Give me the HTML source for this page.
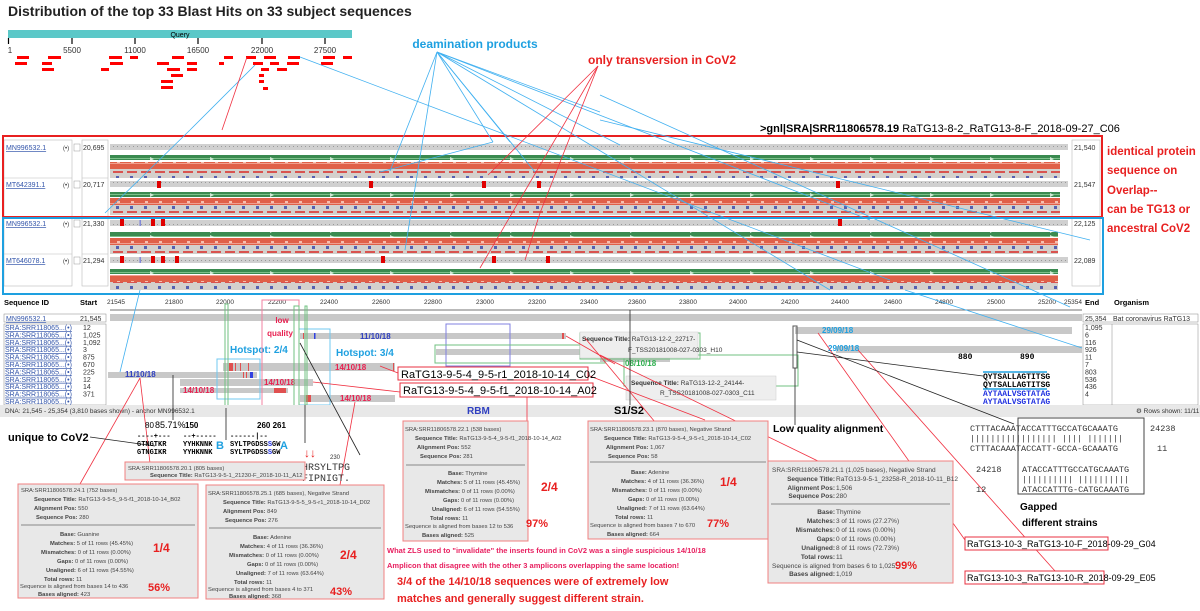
<!DOCTYPE html>
<html><head><meta charset="utf-8"><style>
html,body{margin:0;padding:0;background:#fff;}
svg{display:block;font-family:"Liberation Sans",sans-serif;}
.t7{font-size:7px;fill:#333}
.t6{font-size:6px;fill:#333}
.lnk{font-size:7px;fill:#3355aa;text-decoration:underline}
.mono{font-family:"Liberation Mono",monospace}
</style></head><body>
<svg width="1200" height="611" viewBox="0 0 1200 611" xmlns="http://www.w3.org/2000/svg">
<defs>
<pattern id="dots" width="4" height="6" patternUnits="userSpaceOnUse"><rect width="4" height="6" fill="#d0d0d0"/><rect x="1" y="2" width="1" height="1" fill="#999"/></pattern>
<pattern id="gstripe" width="60" height="6" patternUnits="userSpaceOnUse"><rect width="60" height="6" fill="#3a8a50"/><rect y="2" width="60" height="1" fill="#7cc08a"/><path d="M30 1 L34 3 L30 5Z" fill="#cfe8d5"/></pattern>
<pattern id="rstripe" width="14" height="8" patternUnits="userSpaceOnUse"><rect width="14" height="8" fill="#e06048"/><rect y="3" width="14" height="1" fill="#f0a090"/><rect x="5" y="1" width="3" height="2" fill="#f6c0b0"/></pattern>
<pattern id="cod" width="14" height="10" patternUnits="userSpaceOnUse"><rect width="14" height="10" fill="#d4d0cc"/><rect x="1" y="1" width="10" height="2" fill="#d9534f"/><rect x="4" y="6" width="3" height="3" fill="#5560b0"/></pattern>
</defs>

<text x="8" y="16" font-size="14" font-weight="bold" fill="#222">Distribution of the top 33 Blast Hits on 33 subject sequences</text>
<rect x="8" y="30" width="344" height="8" fill="#5bc8c8"/>
<text x="180" y="37" font-size="7" text-anchor="middle" fill="#000">Query</text>
<g stroke="#000" stroke-width="1.2">
<line x1="8.5" y1="38" x2="8.5" y2="44"/><line x1="72" y1="38" x2="72" y2="44"/><line x1="135" y1="38" x2="135" y2="44"/><line x1="198" y1="38" x2="198" y2="44"/><line x1="262" y1="38" x2="262" y2="44"/><line x1="325" y1="38" x2="325" y2="44"/>
</g>
<g font-size="8" fill="#333" text-anchor="middle">
<text x="10" y="53">1</text><text x="72" y="53">5500</text><text x="135" y="53">11000</text><text x="198" y="53">16500</text><text x="262" y="53">22000</text><text x="325" y="53">27500</text></g>
<g fill="#f00">
<rect x="17" y="56" width="12" height="3"/><rect x="48" y="56" width="13" height="3"/><rect x="109" y="56" width="13" height="3"/><rect x="130" y="56" width="8" height="3"/><rect x="172" y="56" width="12" height="3"/><rect x="224" y="56" width="9" height="3"/><rect x="246" y="56" width="10" height="3"/><rect x="264" y="56" width="12" height="3"/><rect x="288" y="56" width="12" height="3"/><rect x="323" y="56" width="12" height="3"/><rect x="343" y="56" width="9" height="3"/>
<rect x="15" y="62" width="12" height="3"/><rect x="42" y="62" width="10" height="3"/><rect x="110" y="62" width="13" height="3"/><rect x="157" y="62" width="12" height="3"/><rect x="187" y="62" width="10" height="3"/><rect x="219" y="62" width="5" height="3"/><rect x="253" y="62" width="10" height="3"/><rect x="270" y="62" width="9" height="3"/><rect x="287" y="62" width="12" height="3"/><rect x="321" y="62" width="12" height="3"/>
<rect x="42" y="68" width="12" height="3"/><rect x="101" y="68" width="8" height="3"/><rect x="167" y="68" width="13" height="3"/><rect x="187" y="68" width="10" height="3"/><rect x="261" y="68" width="8" height="3"/><rect x="277" y="68" width="10" height="3"/>
<rect x="171" y="74" width="12" height="3"/><rect x="259" y="74" width="5" height="3"/>
<rect x="161" y="80" width="12" height="3"/><rect x="259" y="80" width="5" height="3"/>
<rect x="161" y="86" width="12" height="3"/><rect x="263" y="87" width="5" height="3"/>
</g>

<text x="475" y="48" font-size="12" font-weight="bold" fill="#1ea0e0" text-anchor="middle">deamination products</text>
<text x="588" y="64" font-size="12" font-weight="bold" fill="#e82020">only transversion in CoV2</text>
<text x="760" y="132" font-size="11" fill="#000"><tspan font-weight="bold">&gt;gnl|SRA|SRR11806578.19</tspan> RaTG13-8-2_RaTG13-8-F_2018-09-27_C06</text>

<g>
<rect x="3" y="136" width="1100" height="154" fill="#fff"/>
<rect x="4" y="140" width="68" height="146" fill="#fff" stroke="#bbb" stroke-width="0.6"/>
<line x1="4" y1="178" x2="72" y2="178" stroke="#bbb" stroke-width="0.6"/><line x1="4" y1="217" x2="72" y2="217" stroke="#bbb" stroke-width="0.6"/><line x1="4" y1="254" x2="72" y2="254" stroke="#bbb" stroke-width="0.6"/>
<rect x="82" y="140" width="26" height="146" fill="#fff" stroke="#bbb" stroke-width="0.6"/>
<line x1="82" y1="178" x2="108" y2="178" stroke="#bbb" stroke-width="0.6"/><line x1="82" y1="254" x2="108" y2="254" stroke="#bbb" stroke-width="0.6"/>
<rect x="1072" y="140" width="28" height="146" fill="#fff" stroke="#bbb" stroke-width="0.6"/>
<text x="6" y="150" class="lnk" fill="#7030a0">MN996532.1</text><text x="6" y="187" class="lnk">MT642391.1</text>
<text x="6" y="226" class="lnk" fill="#7030a0">MN996532.1</text><text x="6" y="263" class="lnk">MT646078.1</text>
<g class="t6"><text x="63" y="150">(•)</text><text x="63" y="187">(•)</text><text x="63" y="226">(•)</text><text x="63" y="263">(•)</text></g>
<g fill="#fff" stroke="#999" stroke-width="0.5"><rect x="74" y="144" width="6" height="7"/><rect x="74" y="181" width="6" height="7"/><rect x="74" y="220" width="6" height="7"/><rect x="74" y="257" width="6" height="7"/></g>
<g class="t7"><text x="83" y="150">20,695</text><text x="83" y="187">20,717</text><text x="83" y="226">21,330</text><text x="83" y="263">21,294</text>
<text x="1074" y="150">21,540</text><text x="1074" y="187">21,547</text><text x="1074" y="226">22,125</text><text x="1074" y="263">22,089</text></g>
<g>
<rect x="110" y="144" width="958" height="6" fill="url(#dots)"/>
<rect x="110" y="155" width="950" height="5" fill="url(#gstripe)"/>
<rect x="110" y="162" width="950" height="7" fill="url(#rstripe)"/>
<rect x="110" y="169" width="950" height="9" fill="url(#cod)"/>
<rect x="110" y="181" width="958" height="6" fill="url(#dots)"/>
<rect x="110" y="192" width="950" height="5" fill="url(#gstripe)"/>
<rect x="110" y="198" width="950" height="7" fill="url(#rstripe)"/>
<rect x="110" y="205" width="950" height="10" fill="url(#cod)"/>
<rect x="110" y="220" width="958" height="6" fill="url(#dots)"/>
<rect x="110" y="232" width="948" height="5" fill="url(#gstripe)"/>
<rect x="110" y="238" width="948" height="7" fill="url(#rstripe)"/>
<rect x="110" y="245" width="948" height="9" fill="url(#cod)"/>
<rect x="110" y="257" width="958" height="6" fill="url(#dots)"/>
<rect x="110" y="269" width="948" height="5" fill="url(#gstripe)"/>
<rect x="110" y="275" width="948" height="7" fill="url(#rstripe)"/>
<rect x="110" y="282" width="948" height="8" fill="url(#cod)"/>
</g>
<g fill="#e00000">
<rect x="157" y="181" width="4" height="7"/><rect x="369" y="181" width="4" height="7"/><rect x="482" y="181" width="4" height="7"/><rect x="537" y="181" width="4" height="7"/><rect x="836" y="181" width="4" height="7"/>
<rect x="120" y="219" width="4" height="7"/><rect x="151" y="219" width="4" height="7"/><rect x="161" y="219" width="4" height="7"/><rect x="838" y="219" width="4" height="7"/>
<rect x="120" y="256" width="4" height="7"/><rect x="151" y="256" width="4" height="7"/><rect x="161" y="256" width="4" height="7"/><rect x="175" y="256" width="4" height="7"/><rect x="381" y="256" width="4" height="7"/><rect x="492" y="256" width="4" height="7"/><rect x="546" y="256" width="4" height="7"/>
</g>
<text x="139" y="226" font-size="8" fill="#3040e0">I</text><text x="139" y="263" font-size="8" fill="#3040e0">I</text>
<rect x="3" y="136" width="1099" height="81" fill="none" stroke="#e82020" stroke-width="2"/>
<rect x="3" y="218" width="1100" height="76" fill="none" stroke="#1ea0e0" stroke-width="2"/>
</g>
<g font-size="11.5" font-weight="bold" fill="#e82020">
<text x="1107" y="155">identical protein</text><text x="1107" y="174">sequence on</text><text x="1107" y="194">Overlap--</text><text x="1107" y="213">can be TG13 or</text><text x="1107" y="232">ancestral CoV2</text></g>

<!-- lower panel -->
<rect x="0" y="296" width="1200" height="109" fill="#fff"/>
<g font-size="7.5" font-weight="bold" fill="#000"><text x="4" y="305">Sequence ID</text><text x="80" y="305">Start</text><text x="1085" y="305">End</text><text x="1114" y="305">Organism</text></g>
<g font-size="6.5" fill="#333" text-anchor="middle">
<text x="116" y="304">21545</text><text x="174" y="304">21800</text><text x="225" y="304">22000</text><text x="277" y="304">22200</text><text x="329" y="304">22400</text><text x="381" y="304">22600</text><text x="433" y="304">22800</text><text x="485" y="304">23000</text><text x="537" y="304">23200</text><text x="589" y="304">23400</text><text x="637" y="304">23600</text><text x="688" y="304">23800</text><text x="738" y="304">24000</text><text x="790" y="304">24200</text><text x="840" y="304">24400</text><text x="893" y="304">24600</text><text x="944" y="304">24800</text><text x="996" y="304">25000</text><text x="1047" y="304">25200</text><text x="1073" y="304">25354</text></g>
<line x1="110" y1="310" x2="1082" y2="310" stroke="#444" stroke-width="0.7"/>
<rect x="110" y="314" width="972" height="7" fill="#c8c8c8"/>
<rect x="4" y="314" width="102" height="8" fill="#fff" stroke="#888" stroke-width="0.5"/>
<text x="6" y="321" class="lnk" fill="#7030a0">MN996532.1</text><text x="80" y="321" class="t7">21,545</text>
<rect x="1083" y="314" width="115" height="8" fill="#fff" stroke="#888" stroke-width="0.5"/>
<text x="1085" y="321" class="t7">25,354</text><text x="1113" y="321" class="t7">Bat coronavirus RaTG13</text>
<g>
<rect x="4" y="324" width="102" height="81" fill="#fff" stroke="#888" stroke-width="0.5"/>
<rect x="1083" y="324" width="115" height="81" fill="#fff" stroke="#888" stroke-width="0.5"/>
<line x1="1112" y1="324" x2="1112" y2="405" stroke="#888" stroke-width="0.5"/>
<g class="lnk" font-size="6.3">
<text x="5" y="330">SRA:SRR118065...(•)</text><text x="5" y="337.4">SRA:SRR118065...(•)</text><text x="5" y="344.8">SRA:SRR118065...(•)</text><text x="5" y="352.2">SRA:SRR118065...(•)</text><text x="5" y="359.6">SRA:SRR118065...(•)</text><text x="5" y="367">SRA:SRR118065...(•)</text><text x="5" y="374.4">SRA:SRR118065...(•)</text><text x="5" y="381.8">SRA:SRR118065...(•)</text><text x="5" y="389.2">SRA:SRR118065...(•)</text><text x="5" y="396.6">SRA:SRR118065...(•)</text><text x="5" y="404">SRA:SRR118065...(•)</text></g>
<g class="t7"><text x="83" y="330">12</text><text x="83" y="337.4">1,025</text><text x="83" y="344.8">1,092</text><text x="83" y="352.2">3</text><text x="83" y="359.6">875</text><text x="83" y="367">670</text><text x="83" y="374.4">225</text><text x="83" y="381.8">12</text><text x="83" y="389.2">14</text><text x="83" y="396.6">371</text>
<text x="1085" y="330">1,095</text><text x="1085" y="337.4">6</text><text x="1085" y="344.8">116</text><text x="1085" y="352.2">926</text><text x="1085" y="359.6">11</text><text x="1085" y="367">7</text><text x="1085" y="374.4">803</text><text x="1085" y="381.8">536</text><text x="1085" y="389.2">436</text><text x="1085" y="396.6">4</text></g>
</g>
<g fill="#c8c8c8">
<rect x="300" y="333" width="266" height="6"/>
<rect x="795" y="327" width="277" height="7"/>
<rect x="836" y="346" width="246" height="7"/>
<rect x="436" y="349" width="165" height="6"/>
<rect x="600" y="356" width="70" height="6"/>
<rect x="223" y="363" width="172" height="8"/>
<rect x="108" y="372" width="149" height="6"/>
<rect x="180" y="379" width="133" height="7"/>
<rect x="180" y="388" width="108" height="5"/>
<rect x="300" y="395" width="95" height="7"/>
</g>
<g fill="#e05050">
<rect x="229" y="363" width="4" height="8"/><rect x="235" y="363" width="1" height="8"/><rect x="240" y="363" width="1" height="8"/><rect x="248" y="363" width="1" height="8"/><rect x="246" y="372" width="1" height="6"/><rect x="243" y="372" width="1" height="6"/><rect x="274" y="388" width="12" height="5"/><rect x="306" y="395" width="5" height="7"/><rect x="562" y="333" width="2" height="6"/><rect x="393" y="363" width="1" height="8"/><rect x="303" y="333" width="1" height="6"/>
</g>
<rect x="314" y="333" width="1.5" height="6" fill="#3040e0"/><rect x="250" y="372" width="3" height="6" fill="#3040e0"/>
<g font-size="8" font-weight="bold">
<text x="360" y="339" fill="#3040c0">11/10/18</text>
<text x="125" y="377" fill="#3040c0">11/10/18</text>
<text x="822" y="333" fill="#1ea0e0">29/09/18</text>
<text x="828" y="351" fill="#1ea0e0">29/09/18</text>
<text x="625" y="366" fill="#30b050">08/10/18</text>
<text x="335" y="370" fill="#e82050">14/10/18</text>
<text x="264" y="385" fill="#e82050">14/10/18</text>
<text x="183" y="393" fill="#e82050">14/10/18</text>
<text x="340" y="401" fill="#e82050">14/10/18</text>
</g>
<text x="282" y="323" font-size="8" font-weight="bold" fill="#e82050" text-anchor="middle">low</text>
<text x="280" y="336" font-size="8" font-weight="bold" fill="#e82050" text-anchor="middle">quality</text>
<text x="230" y="353" font-size="10" font-weight="bold" fill="#1ea0e0">Hotspot: 2/4</text>
<text x="336" y="356" font-size="10" font-weight="bold" fill="#1ea0e0">Hotspot: 3/4</text>
<g fill="none" stroke-width="1">
<rect x="262" y="300" width="37" height="112" stroke="#f080a0"/>
<rect x="217" y="359" width="43" height="40" stroke="#70c8f0"/>
<rect x="299" y="329" width="31" height="76" stroke="#70c8f0"/>
<rect x="294" y="306" width="5" height="103" stroke="#70c080"/>
<rect x="305" y="306" width="2" height="99" stroke="#70c080"/>
<rect x="225" y="304" width="3" height="104" stroke="#70c080"/>
<rect x="446" y="324" width="64" height="42" stroke="#8080e0"/>
<rect x="435" y="345" width="170" height="18" stroke="#70c080"/>
<rect x="580" y="333" width="120" height="26" stroke="#70c080"/>
<rect x="624" y="355" width="174" height="31" stroke="#70c080"/>
<rect x="793" y="326" width="4" height="42" stroke="#555"/>
</g>
<g fill="#eee" stroke="#ccc" stroke-width="0.5"><rect x="580" y="332" width="118" height="26"/><rect x="626" y="376" width="150" height="24"/></g>
<g font-size="6.5" fill="#333"><text x="582" y="341"><tspan font-weight="bold">Sequence Title:</tspan> RaTG13-12-2_22717-</text><text x="628" y="352">F_TSS20181008-027-0303_H10</text>
<text x="631" y="385"><tspan font-weight="bold">Sequence Title:</tspan> RaTG13-12-2_24144-</text><text x="660" y="395">R_TSS20181008-027-0303_C11</text></g>
<g class="mono" font-size="8" font-weight="bold">
<text x="958" y="359" fill="#000">880</text><text x="1020" y="359" fill="#000">890</text>
<text x="983" y="379" fill="#000">QYTSALLAGTITSG</text><text x="983" y="387" fill="#000">QYTSALLAGTITSG</text>
<text x="983" y="396" fill="#2030e0">AYTAALVSGTATAG</text><text x="983" y="404" fill="#2030e0">AYTAALVSGTATAG</text></g>
<line x1="983" y1="372" x2="1047" y2="372" stroke="#1ea0e0" stroke-width="1.5"/>
<line x1="983" y1="389" x2="1047" y2="389" stroke="#1ea0e0" stroke-width="1.5"/>
<rect x="0" y="405" width="1200" height="12" fill="#e8e8e8"/>
<text x="5" y="413" font-size="6.5" fill="#333">DNA: 21,545 - 25,354 (3,810 bases shown) - anchor MN996532.1</text>
<text x="1136" y="413" font-size="6.5" fill="#333">⚙ Rows shown: 11/11</text>
<text x="614" y="414" font-size="11" font-weight="bold" fill="#000">S1/S2</text>
<text x="467" y="414" font-size="10" font-weight="bold" fill="#3040c0">RBM</text>

<g stroke="#40b0f0" stroke-width="0.8" fill="none">
<line x1="437" y1="52" x2="390" y2="171"/><line x1="437" y1="52" x2="405" y2="250"/>
<line x1="437" y1="52" x2="493" y2="142"/><line x1="437" y1="52" x2="510" y2="142"/>
<line x1="437" y1="52" x2="535" y2="172"/><line x1="437" y1="52" x2="600" y2="112"/>
<line x1="437" y1="52" x2="870" y2="220"/><line x1="437" y1="52" x2="830" y2="290"/>
<line x1="437" y1="52" x2="620" y2="145"/>
<line x1="300" y1="57" x2="890" y2="280"/>
<line x1="600" y1="95" x2="1070" y2="307"/><line x1="600" y1="120" x2="1090" y2="240"/>
<line x1="255" y1="65" x2="190" y2="130"/><line x1="190" y1="130" x2="105" y2="213"/>
<line x1="140" y1="290" x2="120" y2="372"/>
<line x1="905" y1="290" x2="1082" y2="348"/>
<line x1="493" y1="142" x2="380" y2="172"/>
</g>
<g stroke="#f03040" stroke-width="0.8" fill="none">
<line x1="247" y1="57" x2="222" y2="130"/>
<line x1="598" y1="66" x2="488" y2="175"/><line x1="598" y1="66" x2="540" y2="213"/>
<line x1="598" y1="66" x2="480" y2="268"/><line x1="540" y1="213" x2="525" y2="260"/>
<line x1="140" y1="378" x2="150" y2="463"/><line x1="140" y1="378" x2="80" y2="484"/>
<line x1="355" y1="402" x2="340" y2="485"/>
<line x1="313" y1="382" x2="400" y2="392"/>
<line x1="380" y1="366" x2="398" y2="373"/>
<line x1="527" y1="397" x2="527" y2="422"/>
<line x1="566" y1="336" x2="615" y2="364"/>
<line x1="587" y1="375" x2="705" y2="420"/>
<line x1="600" y1="355" x2="820" y2="462"/>
<line x1="585" y1="338" x2="670" y2="440"/>
<line x1="818" y1="333" x2="965" y2="540"/><line x1="858" y1="350" x2="1055" y2="571"/>
</g>
<g stroke="#222" stroke-width="0.8" fill="none">
<line x1="173" y1="375" x2="173" y2="420"/><line x1="226" y1="408" x2="226" y2="440"/>
<line x1="305" y1="405" x2="305" y2="443"/><line x1="300" y1="343" x2="360" y2="455"/>
<line x1="630" y1="310" x2="630" y2="405"/>
<line x1="795" y1="368" x2="795" y2="425"/>
<line x1="797" y1="340" x2="1014" y2="424"/><line x1="797" y1="352" x2="983" y2="376"/>
<line x1="90" y1="437" x2="155" y2="446"/>
</g>
<g fill="#fff" stroke="#e83040" stroke-width="1"><rect x="398" y="367" width="190" height="13"/><rect x="400" y="383" width="193" height="14"/>
<rect x="965" y="537" width="143" height="13"/><rect x="965" y="571" width="139" height="13"/></g>
<g font-size="11" fill="#000"><text x="401" y="378">RaTG13-9-5-4_9-5-r1_2018-10-14_C02</text><text x="403" y="394">RaTG13-9-5-4_9-5-f1_2018-10-14_A02</text></g>
<g font-size="9" fill="#000"><text x="967" y="547">RaTG13-10-3_RaTG13-10-F_2018-09-29_G04</text><text x="967" y="581">RaTG13-10-3_RaTG13-10-R_2018-09-29_E05</text></g>

<text x="8" y="441" font-size="11" font-weight="bold" fill="#000">unique to CoV2</text>
<g class="mono" font-size="7" font-weight="bold" fill="#000">
<text x="145" y="428" font-family="Liberation Sans" font-weight="normal" font-size="8">80</text><text x="155" y="428" font-family="Liberation Sans" font-weight="normal" font-size="9">85.71%</text>
<text x="137" y="438">----+---</text><text x="137" y="446">GTNGTKR</text><text x="137" y="454">GTNGIKR</text>
<text x="185" y="428" font-family="Liberation Sans" font-size="8">150</text>
<text x="183" y="438">--+-----</text><text x="183" y="446">YYHKNNK</text><text x="183" y="454">YYHKNNK</text>
<text x="257" y="428" font-family="Liberation Sans" font-size="8">260 261</text>
<text x="230" y="438">------|--</text><text x="230" y="446">SYLTPGDSS<tspan fill="#2030e0">S</tspan>GW</text><text x="230" y="454">SYLTPGDSS<tspan fill="#2030e0">S</tspan>GW</text>
</g>
<text x="216" y="449" font-size="11" font-weight="bold" fill="#1ea0e0">B</text>
<text x="280" y="449" font-size="11" font-weight="bold" fill="#1ea0e0">A</text>
<text x="304" y="457" font-size="12" font-weight="bold" fill="#e82020">↓↓</text>
<text x="330" y="459" font-size="6" fill="#333">230</text>
<g class="mono" font-size="10" fill="#333"><text x="302" y="470">HRSYLTPG</text><text x="302" y="481">FIPNIGT.</text></g>

<!-- info boxes -->
<g fill="#e8e8e8" stroke="#f08080" stroke-width="1">
<rect x="125" y="462" width="180" height="18"/>
<rect x="18" y="484" width="180" height="114"/>
<rect x="206" y="485" width="178" height="114"/>
<rect x="403" y="421" width="125" height="120"/>
<rect x="588" y="421" width="180" height="118"/>
<rect x="768" y="461" width="185" height="122"/>
</g>
<g stroke="#888" stroke-width="1"><line x1="21" y1="525" x2="195" y2="525"/><line x1="209" y1="528" x2="381" y2="528"/><line x1="406" y1="465" x2="525" y2="465"/><line x1="590" y1="462" x2="766" y2="462"/><line x1="771" y1="504" x2="950" y2="504"/></g>
<text x="773" y="432" font-size="10.5" font-weight="bold" fill="#000">Low quality alignment</text>
<g font-size="5.8" fill="#444">
<text x="128" y="470">SRA:SRR11806578.20.1 (805 bases)</text>
<text x="150" y="477"><tspan font-weight="bold">Sequence Title:</tspan> RaTG13-9-5-1_21230-F_2018-10-11_A12</text>
<text x="21" y="492">SRA:SRR11806578.24.1 (752 bases)</text>
<text x="34" y="501"><tspan font-weight="bold">Sequence Title:</tspan> RaTG13-9-5-5_9-5-f1_2018-10-14_B02</text>
<text x="34" y="510"><tspan font-weight="bold">Alignment Pos:</tspan> 550</text>
<text x="36" y="519"><tspan font-weight="bold">Sequence Pos:</tspan> 280</text>
<text x="60" y="536"><tspan font-weight="bold">Base:</tspan> Guanine</text>
<text x="50" y="545"><tspan font-weight="bold">Matches:</tspan> 5 of 11 rows (45.45%)</text>
<text x="41" y="554"><tspan font-weight="bold">Mismatches:</tspan> 0 of 11 rows (0.00%)</text>
<text x="57" y="563"><tspan font-weight="bold">Gaps:</tspan> 0 of 11 rows (0.00%)</text>
<text x="46" y="572"><tspan font-weight="bold">Unaligned:</tspan> 6 of 11 rows (54.55%)</text>
<text x="44" y="581"><tspan font-weight="bold">Total rows:</tspan> 11</text>
<text x="20" y="588">Sequence is aligned from bases 14 to 436</text>
<text x="38" y="596"><tspan font-weight="bold">Bases aligned:</tspan> 423</text>
<text x="208" y="495">SRA:SRR11806578.25.1 (685 bases), Negative Strand</text>
<text x="223" y="504"><tspan font-weight="bold">Sequence Title:</tspan> RaTG13-9-5-5_9-5-r1_2018-10-14_D02</text>
<text x="223" y="513"><tspan font-weight="bold">Alignment Pos:</tspan> 849</text>
<text x="225" y="522"><tspan font-weight="bold">Sequence Pos:</tspan> 276</text>
<text x="253" y="539"><tspan font-weight="bold">Base:</tspan> Adenine</text>
<text x="240" y="548"><tspan font-weight="bold">Matches:</tspan> 4 of 11 rows (36.36%)</text>
<text x="229" y="557"><tspan font-weight="bold">Mismatches:</tspan> 0 of 11 rows (0.00%)</text>
<text x="247" y="566"><tspan font-weight="bold">Gaps:</tspan> 0 of 11 rows (0.00%)</text>
<text x="236" y="575"><tspan font-weight="bold">Unaligned:</tspan> 7 of 11 rows (63.64%)</text>
<text x="234" y="584"><tspan font-weight="bold">Total rows:</tspan> 11</text>
<text x="208" y="591">Sequence is aligned from bases 4 to 371</text>
<text x="229" y="598"><tspan font-weight="bold">Bases aligned:</tspan> 368</text>
<text x="405" y="431">SRA:SRR11806578.22.1 (538 bases)</text>
<text x="415" y="440"><tspan font-weight="bold">Sequence Title:</tspan> RaTG13-9-5-4_9-5-f1_2018-10-14_A02</text>
<text x="417" y="449"><tspan font-weight="bold">Alignment Pos:</tspan> 552</text>
<text x="420" y="458"><tspan font-weight="bold">Sequence Pos:</tspan> 281</text>
<text x="448" y="475"><tspan font-weight="bold">Base:</tspan> Thymine</text>
<text x="437" y="484"><tspan font-weight="bold">Matches:</tspan> 5 of 11 rows (45.45%)</text>
<text x="425" y="493"><tspan font-weight="bold">Mismatches:</tspan> 0 of 11 rows (0.00%)</text>
<text x="443" y="502"><tspan font-weight="bold">Gaps:</tspan> 0 of 11 rows (0.00%)</text>
<text x="432" y="511"><tspan font-weight="bold">Unaligned:</tspan> 6 of 11 rows (54.55%)</text>
<text x="430" y="520"><tspan font-weight="bold">Total rows:</tspan> 11</text>
<text x="405" y="528">Sequence is aligned from bases 12 to 536</text>
<text x="422" y="537"><tspan font-weight="bold">Bases aligned:</tspan> 525</text>
<text x="590" y="431">SRA:SRR11806578.23.1 (870 bases), Negative Strand</text>
<text x="604" y="440"><tspan font-weight="bold">Sequence Title:</tspan> RaTG13-9-5-4_9-5-r1_2018-10-14_C02</text>
<text x="606" y="449"><tspan font-weight="bold">Alignment Pos:</tspan> 1,067</text>
<text x="608" y="458"><tspan font-weight="bold">Sequence Pos:</tspan> 58</text>
<text x="631" y="474"><tspan font-weight="bold">Base:</tspan> Adenine</text>
<text x="621" y="483"><tspan font-weight="bold">Matches:</tspan> 4 of 11 rows (36.36%)</text>
<text x="612" y="492"><tspan font-weight="bold">Mismatches:</tspan> 0 of 11 rows (0.00%)</text>
<text x="628" y="501"><tspan font-weight="bold">Gaps:</tspan> 0 of 11 rows (0.00%)</text>
<text x="617" y="510"><tspan font-weight="bold">Unaligned:</tspan> 7 of 11 rows (63.64%)</text>
<text x="615" y="519"><tspan font-weight="bold">Total rows:</tspan> 11</text>
<text x="590" y="527">Sequence is aligned from bases 7 to 670</text>
<text x="607" y="536"><tspan font-weight="bold">Bases aligned:</tspan> 664</text>
</g>
<g font-size="6.5" fill="#444">
<text x="772" y="472">SRA:SRR11806578.21.1 (1,025 bases), Negative Strand</text>
<g text-anchor="end" font-weight="bold"><text x="835" y="481">Sequence Title:</text><text x="835" y="490">Alignment Pos:</text><text x="835" y="498">Sequence Pos:</text>
<text x="835" y="514">Base:</text><text x="835" y="523">Matches:</text><text x="835" y="532">Mismatches:</text><text x="835" y="541">Gaps:</text><text x="835" y="550">Unaligned:</text><text x="835" y="559">Total rows:</text><text x="835" y="576">Bases aligned:</text></g>
<text x="836" y="481">RaTG13-9-5-1_23258-R_2018-10-11_B12</text><text x="836" y="490">1,506</text><text x="836" y="498">280</text>
<text x="836" y="514">Thymine</text><text x="836" y="523">3 of 11 rows (27.27%)</text><text x="836" y="532">0 of 11 rows (0.00%)</text><text x="836" y="541">0 of 11 rows (0.00%)</text><text x="836" y="550">8 of 11 rows (72.73%)</text><text x="836" y="559">11</text>
<text x="772" y="568">Sequence is aligned from bases 6 to 1,025</text><text x="836" y="576">1,019</text>
</g>
<g font-weight="bold" fill="#e82020">
<text x="153" y="552" font-size="12">1/4</text><text x="148" y="591" font-size="11">56%</text>
<text x="340" y="559" font-size="12">2/4</text><text x="330" y="595" font-size="11">43%</text>
<text x="541" y="491" font-size="12">2/4</text><text x="526" y="527" font-size="11">97%</text>
<text x="720" y="486" font-size="12">1/4</text><text x="707" y="527" font-size="11">77%</text>
<text x="895" y="569" font-size="11">99%</text>
</g>
<g font-weight="bold" fill="#e82060" font-size="7.5">
<text x="387" y="553">What ZLS used to "invalidate" the inserts found in CoV2 was a single suspicious 14/10/18</text>
<text x="387" y="568">Amplicon that disagree with the other 3 amplicons overlapping the same location!</text></g>
<g font-weight="bold" fill="#e82020" font-size="11">
<text x="397" y="585">3/4 of the 14/10/18 sequences were of extremely low</text>
<text x="397" y="602">matches and generally suggest different strain.</text></g>

<g class="mono" font-size="8.5" fill="#333">
<text x="970" y="431">CTTTACAAATACCATTTGCCATGCAAATG</text><text x="1150" y="431">24238</text>
<text x="970" y="441">||||||||||||||||| |||| |||||||</text>
<text x="970" y="451">CTTTACAAATACCATT-GCCA-GCAAATG</text><text x="1157" y="451">11</text>
<text x="976" y="472">24218</text><text x="1022" y="472">ATACCATTTGCCATGCAAATG</text>
<text x="1022" y="482">|||||||||| ||||||||||</text>
<text x="976" y="492">12</text><text x="1022" y="492">ATACCATTTG-CATGCAAATG</text>
</g>
<rect x="1018" y="418" width="126" height="76" fill="none" stroke="#444" stroke-width="1"/>
<text x="1020" y="510" font-size="10" font-weight="bold" fill="#000">Gapped</text>
<text x="1022" y="526" font-size="10" font-weight="bold" fill="#000">different strains</text>
</svg>
</body></html>
